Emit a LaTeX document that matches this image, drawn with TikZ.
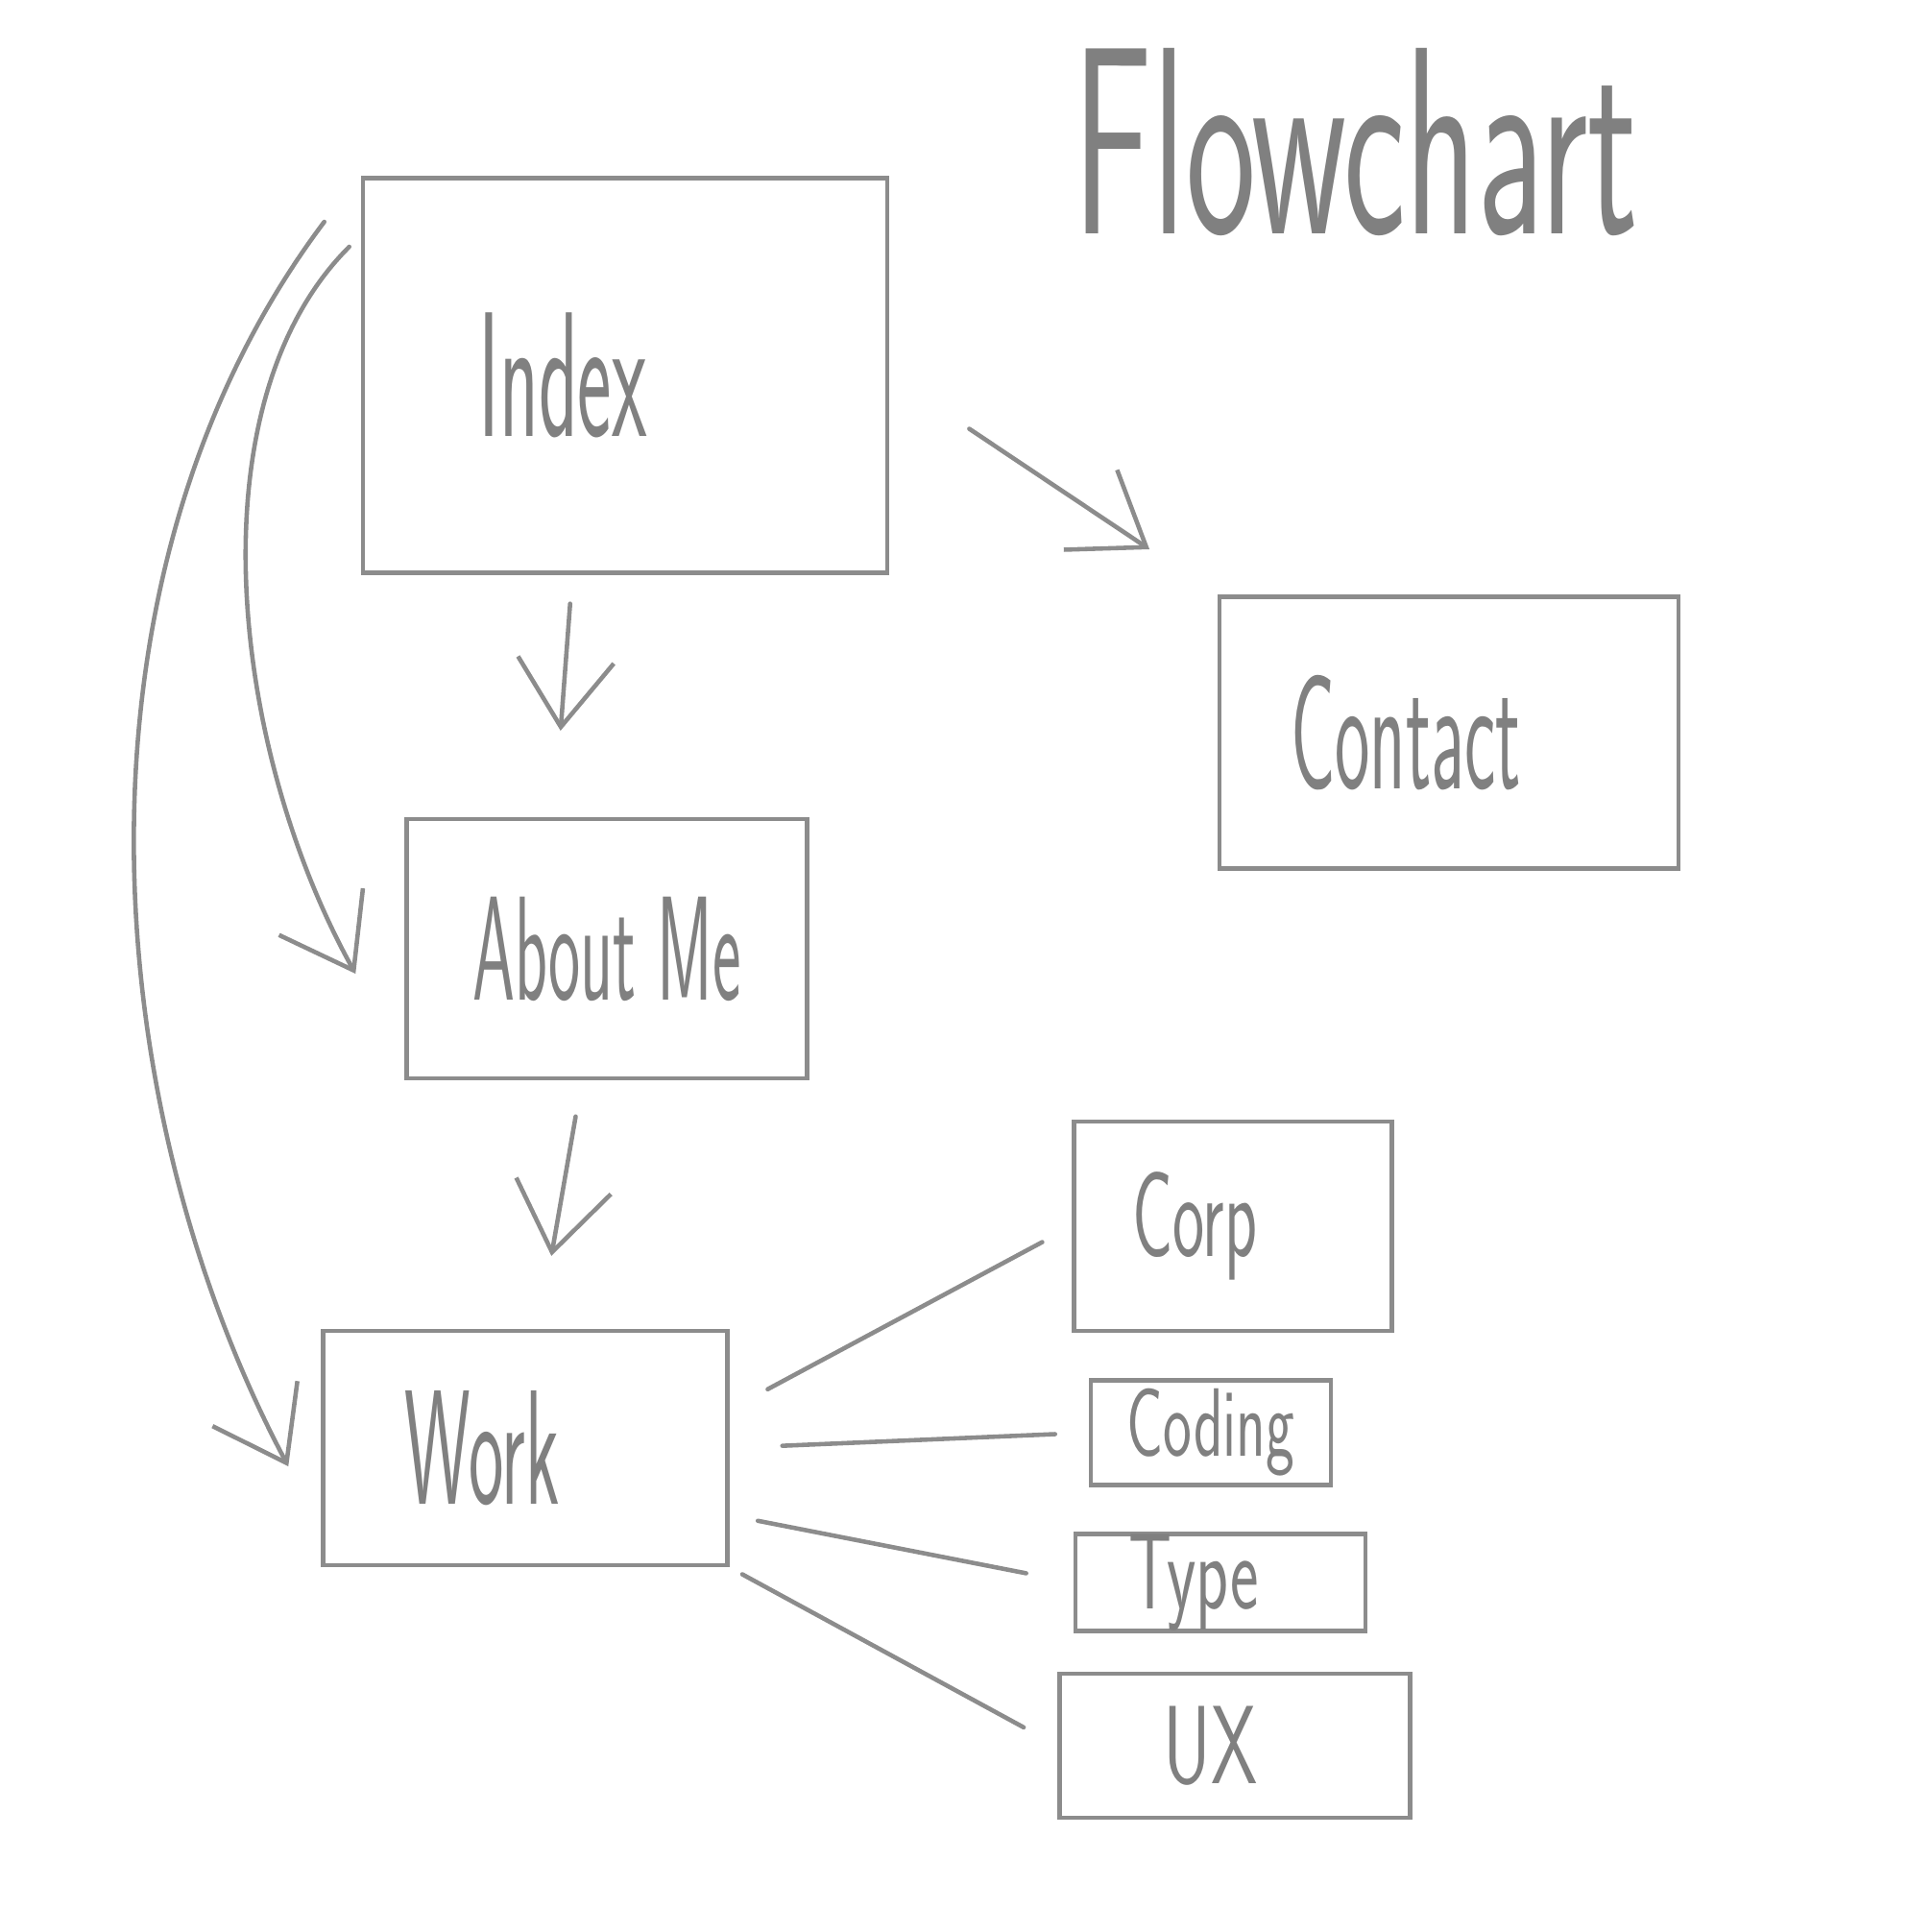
\documentclass[tikz,border=0pt]{standalone}
\usepackage{graphicx}
\usetikzlibrary{arrows.meta}
\newcommand{\hand}[2]{\scalebox{1}[#1]{#2}}
\begin{document}
\begin{tikzpicture}[every node/.style={font=\sffamily, text=black!50},
    pbox/.style={draw=black!45, line width=1.3pt, inner sep=0pt},
    pline/.style={draw=black!45, line width=1.3pt, line cap=round},
    arr/.style={pline, -{Straight Barb[length=7mm, width=10mm, line width=1.3pt]}}]
                \useasboundingbox (0,0) rectangle (20.12,-20.12);
                \node (title) at (14.12,-1.48) {\fontsize{44}{44}\selectfont\hand{1.8}{Flowchart}};
                \node[pbox, minimum width=5.46cm, minimum height=4.11cm] (Index) at (6.51,-3.91) {\fontsize{24}{24}\selectfont\hand{2.2}{Index}\kern1.3cm};
                \node[pbox, minimum width=4.78cm, minimum height=2.83cm] (Contact) at (15.09,-7.63) {\fontsize{22}{22}\selectfont\hand{2.2}{Contact}\kern0.9cm};
                \node[pbox, minimum width=4.17cm, minimum height=2.70cm] (About) at (6.32,-9.88) {\fontsize{20}{20}\selectfont\hand{2.2}{About Me}};
                \node[pbox, minimum width=4.21cm, minimum height=2.44cm] (Work) at (5.47,-15.08) {\fontsize{22}{22}\selectfont\hand{2.2}{Work}\kern0.9cm};
                \node[pbox, minimum width=3.31cm, minimum height=2.18cm] (Corp) at (12.84,-12.77) {\fontsize{20}{20}\selectfont\hand{1.8}{Corp}\kern0.8cm};
                \node[pbox, minimum width=2.50cm, minimum height=1.09cm] (Coding) at (12.61,-14.92) {\fontsize{18}{18}\selectfont\hand{1.6}{Coding}};
                \node[pbox, minimum width=3.02cm, minimum height=0.93cm] (Type) at (12.71,-16.48) {\fontsize{20}{20}\selectfont\hand{1.6}{Type}\kern0.55cm};
                \node[pbox, minimum width=3.65cm, minimum height=1.50cm] (UX) at (12.86,-18.18) {\fontsize{22}{22}\selectfont\hand{1.5}{UX}\kern0.5cm};
                % arrows between pages
                \draw[arr, shorten <=10mm, shorten >=8.5mm] (Index.east) -- (Contact.north west);
                \draw[arr, shorten <=3mm, shorten >=9mm] ([xshift=-5.5mm]Index.south) -- ([xshift=-5.5mm]About.north);
                \draw[arr, shorten <=3.8mm, shorten >=7.7mm] ([xshift=-2.6mm]About.south) -- ([xshift=1.4mm]Work.north);
                \draw[arr] ([xshift=-1.2mm, yshift=13.4mm]Index.west) .. controls (2.0,-4.2) and (2.4,-7.8) .. ([xshift=-5.1mm, yshift=-2.6mm]About.west);
                \draw[arr] ([xshift=-3.8mm, yshift=16mm]Index.west) .. controls (0.6,-6.0) and (1.0,-11.5) .. ([xshift=-3.4mm, yshift=-1.9mm]Work.west);
                % work sub pages
                \draw[pline, shorten <=4.5mm, shorten >=3.5mm] ([yshift=4mm]Work.east) -- (Corp.west);
                \draw[pline, shorten <=5.5mm, shorten >=3.5mm] (Work.east) -- (Coding.west);
                \draw[pline, shorten <=3mm, shorten >=5mm] ([yshift=-7mm]Work.east) -- (Type.west);
                \draw[pline, shorten <=1.5mm, shorten >=4mm] (Work.south east) -- (UX.west);
            \end{tikzpicture}
\end{document}
